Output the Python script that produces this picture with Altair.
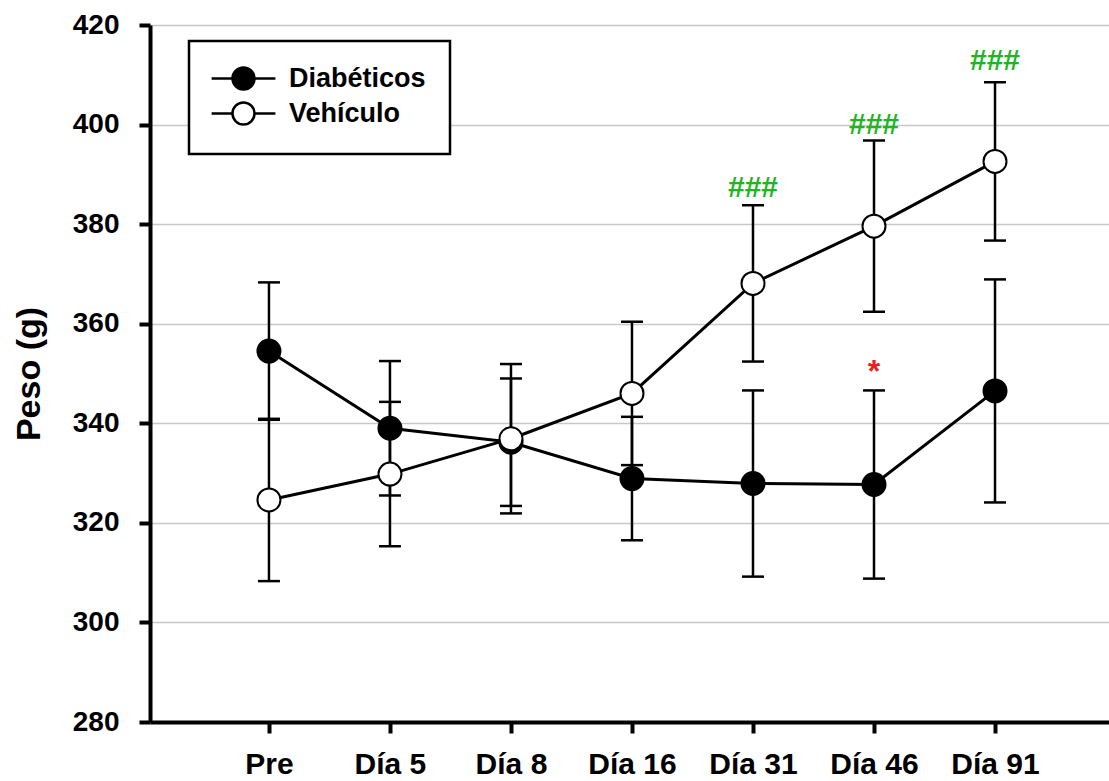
import altair as alt
import pandas as pd

# Time points and groups
days = ["Pre", "Día 5", "Día 8", "Día 16", "Día 31", "Día 46", "Día 91"]
groups = ["Diabéticos", "Vehículo"]

# Body weight (g): mean and SEM per time point
diab_mean = [354.5, 339.0, 336.2, 328.9, 327.9, 327.7, 346.5]
diab_sem = [13.8, 13.5, 12.8, 12.4, 18.7, 18.9, 22.4]
veh_mean = [324.6, 329.8, 336.9, 346.0, 368.1, 379.6, 392.6]
veh_sem = [16.3, 14.5, 15.0, 14.4, 15.7, 17.2, 15.9]

# Significance marks
hash_days = ["Día 31", "Día 46", "Día 91"]
hash_y = [387.3, 400.0, 412.7]
star_days = ["Día 46"]
star_y = [352.3]

y_ticks = [280, 300, 320, 340, 360, 380, 400, 420]

rows = []
for g, means, sems in [(groups[0], diab_mean, diab_sem), (groups[1], veh_mean, veh_sem)]:
    for i, (m, s) in enumerate(zip(means, sems)):
        rows.append({"day": days[i], "idx": i, "group": g, "mean": m,
                     "lo": m - s, "hi": m + s})
df = pd.DataFrame(rows)

hash_df = pd.DataFrame({"idx": [days.index(d) for d in hash_days], "y": hash_y,
                        "txt": ["###"] * len(hash_days)})
star_df = pd.DataFrame({"idx": [days.index(d) for d in star_days], "y": star_y,
                        "txt": ["*"] * len(star_days)})

FONT = "Liberation Sans"
label_expr = "[" + ",".join("'" + d + "'" for d in days) + "][datum.value]"

x_scale = alt.Scale(domain=[-0.983, 6.942], nice=False, zero=False)
y_scale = alt.Scale(domain=[280, 420], nice=False, zero=False)

x_axis = alt.Axis(values=list(range(len(days))), labelExpr=label_expr, title=None,
                  grid=False, domainColor="black", domainWidth=4, tickColor="black",
                  tickWidth=4, tickSize=11, labelFont=FONT, labelFontSize=30,
                  labelFontWeight="bold", labelColor="black", labelPadding=16,
                  labelBaseline="top")
y_axis = alt.Axis(values=y_ticks, title="Peso (g)", grid=True, gridColor="#c8c8c8",
                  gridWidth=1.5, domainColor="black", domainWidth=4, tickColor="black",
                  tickWidth=4, tickSize=11, labelFont=FONT, labelFontSize=28,
                  labelFontWeight="bold", labelColor="black", labelPadding=20,
                  titleFont=FONT, titleFontSize=34, titleFontWeight="bold",
                  titleColor="black", titlePadding=26)

X = alt.X("idx:Q", scale=x_scale, axis=x_axis)

base = alt.Chart(df)

bars = base.mark_rule(color="black", strokeWidth=2.5).encode(
    x=X, y=alt.Y("lo:Q", scale=y_scale, axis=y_axis), y2="hi:Q")
cap_lo = base.mark_tick(orient="horizontal", size=22, thickness=2.5, color="black",
                        opacity=1).encode(x=X, y=alt.Y("lo:Q", scale=y_scale, axis=y_axis))
cap_hi = base.mark_tick(orient="horizontal", size=22, thickness=2.5, color="black",
                        opacity=1).encode(x=X, y=alt.Y("hi:Q", scale=y_scale, axis=y_axis))

lines = base.mark_line(color="black", strokeWidth=3).encode(
    x=X, y=alt.Y("mean:Q", scale=y_scale, axis=y_axis), detail="group:N")

legend_symbol = "M-2.9,0H-1A1,1 0 1,1 1,0A1,1 0 1,1 -1,0M1,0H2.9"
points = base.mark_point(filled=True, size=529, stroke="black", strokeWidth=2,
                         opacity=1, shape="circle").encode(
    x=X, y=alt.Y("mean:Q", scale=y_scale, axis=y_axis),
    fill=alt.Fill("group:N", scale=alt.Scale(domain=groups, range=["black", "white"]),
                  legend=alt.Legend(title=None, orient="none", legendX=39, legendY=16,
                                    symbolType=legend_symbol, symbolSize=484,
                                    symbolStrokeColor="black", symbolStrokeWidth=2.5,
                                    symbolOpacity=1, symbolOffset=17, labelOffset=32,
                                    labelFont=FONT, labelFontSize=27,
                                    labelFontWeight="bold", labelColor="black",
                                    labelLimit=400, padding=24, rowPadding=2,
                                    strokeColor="black", fillColor="white")),
    order=alt.Order("group:N"))

hashes = alt.Chart(hash_df).mark_text(font=FONT, fontSize=30, fontWeight="bold",
                                      color="#22b422", baseline="middle").encode(
    x=X, y=alt.Y("y:Q", scale=y_scale, axis=y_axis), text="txt:N")
stars = alt.Chart(star_df).mark_text(font=FONT, fontSize=32, fontWeight="bold",
                                     color="#e8201e", baseline="middle", dy=10).encode(
    x=X, y=alt.Y("y:Q", scale=y_scale, axis=y_axis), text="txt:N")

chart = alt.layer(bars, cap_lo, cap_hi, lines, points, hashes, stars).properties(
    width=959, height=697,
    autosize=alt.AutoSizeParams(type="none"),
    padding={"left": 150, "top": 25, "right": 0, "bottom": 59},
    background="white",
).configure_view(stroke=None).configure_legend(strokeWidth=2.5)

chart.save("out.html", embed_options={"renderer": "svg", "actions": False})
